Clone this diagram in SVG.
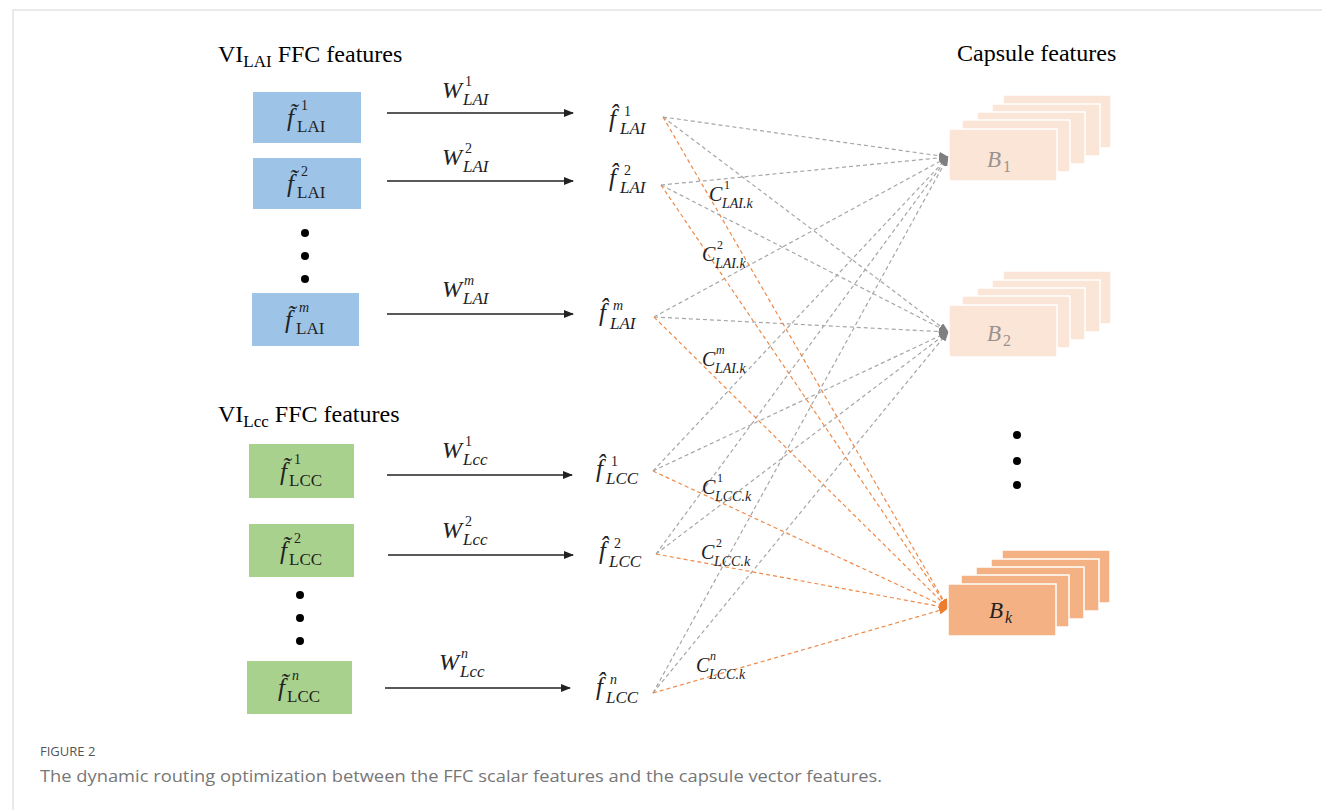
<svg xmlns="http://www.w3.org/2000/svg" width="1322" height="810" viewBox="0 0 1322 810">
<style>
.frame{stroke:#e3e3e3;stroke-width:1.5;fill:none}
.title{font-family:"Liberation Serif",serif;font-size:24px;fill:#000}
.m{font-family:"Liberation Serif","DejaVu Serif",serif;font-style:italic;fill:#222}
.up{font-style:normal}
.f{font-size:25px}
.sp{font-size:14px}
.sb{font-size:17px}
.blue{fill:#9dc3e6}
.green{fill:#a9d18e}
.cap{fill:#fbe5d6;stroke:#fff;stroke-width:1.5}
.capk{fill:#f4b183;stroke:#fff;stroke-width:1.5}
.arrow{stroke:#222;stroke-width:1.3;fill:none;marker-end:url(#ah)}
.g{stroke:#a6a6a6;stroke-width:1.2;stroke-dasharray:4 3;fill:none;marker-end:url(#gh)}
.o{stroke:#ee8a48;stroke-width:1.2;stroke-dasharray:4 3;fill:none;marker-end:url(#oh)}
.dot{fill:#000}
.fig{font-family:"Open Sans",sans-serif;font-size:13px;fill:#555}
.capt{font-family:"Open Sans",sans-serif;font-size:16px;fill:#777}
.blab{fill:#9a9290}
</style>
<defs>
<marker id="ah" markerWidth="10" markerHeight="8" refX="9" refY="4" orient="auto" markerUnits="userSpaceOnUse"><path d="M0,0 L10,4 L0,8 z" fill="#222"/></marker>
<marker id="gh" markerWidth="10" markerHeight="8" refX="9" refY="4" orient="auto" markerUnits="userSpaceOnUse"><path d="M0,0 L10,4 L0,8 z" fill="#7f7f7f"/></marker>
<marker id="oh" markerWidth="10" markerHeight="8" refX="9" refY="4" orient="auto" markerUnits="userSpaceOnUse"><path d="M0,0 L10,4 L0,8 z" fill="#ed7d31"/></marker>
<g id="stack">
<rect x="54" y="-34" width="108" height="53"/>
<rect x="43" y="-25" width="108" height="52"/>
<rect x="28" y="-17" width="108" height="52"/>
<rect x="13" y="-9" width="108" height="52"/>
<rect x="0" y="0" width="108" height="52"/>
</g>
</defs>
<rect width="1322" height="810" fill="#fff"/>
<path class="frame" d="M13,810 V10 H1322"/>

<text class="title" x="218" y="62">VI<tspan font-size="17" dy="5">LAI</tspan><tspan dy="-5"> FFC features</tspan></text>
<text class="title" x="218" y="422">VI<tspan font-size="17" dy="5">Lcc</tspan><tspan dy="-5"> FFC features</tspan></text>
<text class="title" x="957" y="61">Capsule features</text>

<g id="connectors">
<line class="arrow" x1="387" y1="113" x2="573" y2="113"/>
<line class="arrow" x1="387" y1="181" x2="573" y2="181"/>
<line class="arrow" x1="387" y1="314" x2="573" y2="314"/>
<line class="arrow" x1="387" y1="475" x2="572" y2="475"/>
<line class="arrow" x1="388" y1="555" x2="573" y2="555"/>
<line class="arrow" x1="385" y1="688" x2="570" y2="688"/>
<line class="g" x1="663" y1="117" x2="948" y2="157"/>
<line class="g" x1="661" y1="185" x2="948" y2="157"/>
<line class="g" x1="654" y1="317" x2="948" y2="157"/>
<line class="g" x1="653" y1="471" x2="948" y2="157"/>
<line class="g" x1="656" y1="554" x2="948" y2="157"/>
<line class="g" x1="653" y1="693" x2="948" y2="157"/>
<line class="g" x1="663" y1="117" x2="948" y2="332"/>
<line class="g" x1="661" y1="185" x2="948" y2="332"/>
<line class="g" x1="654" y1="317" x2="948" y2="332"/>
<line class="g" x1="653" y1="471" x2="948" y2="332"/>
<line class="g" x1="656" y1="554" x2="948" y2="332"/>
<line class="g" x1="653" y1="693" x2="948" y2="332"/>
<line class="o" x1="663" y1="117" x2="948" y2="608"/>
<line class="o" x1="661" y1="185" x2="948" y2="608"/>
<line class="o" x1="654" y1="317" x2="948" y2="608"/>
<line class="o" x1="653" y1="471" x2="948" y2="608"/>
<line class="o" x1="656" y1="554" x2="948" y2="608"/>
<line class="o" x1="653" y1="693" x2="948" y2="608"/>
</g>

<g id="fLAI1"><rect class="blue" x="253" y="92" width="108" height="51"/>
<text class="m f" x="287" y="126">f̃</text><text class="m up sp" x="301" y="110">1</text><text class="m up sb" x="297" y="132">LAI</text></g>
<g id="fLAI2"><rect class="blue" x="253" y="158" width="108" height="51"/>
<text class="m f" x="287" y="192">f̃</text><text class="m up sp" x="301" y="176">2</text><text class="m up sb" x="297" y="198">LAI</text></g>
<g id="dotsLAI"><circle class="dot" cx="305" cy="233" r="4"/><circle class="dot" cx="305" cy="256" r="4"/><circle class="dot" cx="305" cy="279" r="4"/></g>
<g id="fLAIm"><rect class="blue" x="252" y="293" width="107" height="53"/>
<text class="m f" x="285" y="328">f̃</text><text class="m sp" x="299" y="312">m</text><text class="m up sb" x="296" y="334">LAI</text></g>

<g id="fLCC1"><rect class="green" x="249" y="444" width="105" height="54"/>
<text class="m f" x="280" y="480">f̃</text><text class="m up sp" x="294" y="464">1</text><text class="m up sb" x="289" y="486">LCC</text></g>
<g id="fLCC2"><rect class="green" x="249" y="524" width="105" height="53"/>
<text class="m f" x="280" y="559">f̃</text><text class="m up sp" x="294" y="543">2</text><text class="m up sb" x="289" y="565">LCC</text></g>
<g id="dotsLCC"><circle class="dot" cx="300" cy="595" r="4"/><circle class="dot" cx="300" cy="618" r="4"/><circle class="dot" cx="300" cy="641" r="4"/></g>
<g id="fLCCn"><rect class="green" x="247" y="661" width="105" height="53"/>
<text class="m f" x="278" y="696">f̃</text><text class="m sp" x="292" y="680">n</text><text class="m up sb" x="287" y="702">LCC</text></g>

<g id="wlabels">
<text class="m" x="442" y="98" font-size="24">W</text><text class="m up sp" x="465" y="86">1</text><text class="m sb" x="463" y="105">LAI</text>
<text class="m" x="442" y="165" font-size="24">W</text><text class="m up sp" x="465" y="153">2</text><text class="m sb" x="463" y="172">LAI</text>
<text class="m" x="442" y="297" font-size="24">W</text><text class="m sp" x="464" y="285">m</text><text class="m sb" x="463" y="304">LAI</text>
<text class="m" x="442" y="458" font-size="24">W</text><text class="m up sp" x="465" y="446">1</text><text class="m sb" x="463" y="465">Lcc</text>
<text class="m" x="442" y="538" font-size="24">W</text><text class="m up sp" x="465" y="526">2</text><text class="m sb" x="463" y="545">Lcc</text>
<text class="m" x="439" y="670" font-size="24">W</text><text class="m sp" x="461" y="658">n</text><text class="m sb" x="460" y="677">Lcc</text>
</g>

<g id="fhLAI1"><text class="m f" x="609" y="127">f̂</text><text class="m up sp" x="624" y="116">1</text><text class="m sb" x="620" y="134">LAI</text></g>
<g id="fhLAI2"><text class="m f" x="609" y="186">f̂</text><text class="m up sp" x="624" y="175">2</text><text class="m sb" x="620" y="193">LAI</text></g>
<g id="fhLAIm"><text class="m f" x="599" y="321">f̂</text><text class="m sp" x="613" y="310">m</text><text class="m sb" x="610" y="329">LAI</text></g>
<g id="fhLCC1"><text class="m f" x="596" y="477">f̂</text><text class="m up sp" x="611" y="466">1</text><text class="m sb" x="606" y="484">LCC</text></g>
<g id="fhLCC2"><text class="m f" x="599" y="559">f̂</text><text class="m up sp" x="614" y="548">2</text><text class="m sb" x="609" y="567">LCC</text></g>
<g id="fhLCCn"><text class="m f" x="596" y="695">f̂</text><text class="m sp" x="610" y="684">n</text><text class="m sb" x="606" y="703">LCC</text></g>

<g id="clabels">
<text class="m" x="709" y="201" font-size="20">C</text><text class="m up" x="724" y="189" font-size="12">1</text><text class="m" x="722" y="208" font-size="14">LAI.k</text>
<text class="m" x="702" y="261" font-size="20">C</text><text class="m up" x="717" y="249" font-size="12">2</text><text class="m" x="715" y="268" font-size="14">LAI.k</text>
<text class="m" x="702" y="366" font-size="20">C</text><text class="m" x="716" y="354" font-size="12">m</text><text class="m" x="715" y="373" font-size="14">LAI.k</text>
<text class="m" x="702" y="494" font-size="20">C</text><text class="m up" x="717" y="482" font-size="12">1</text><text class="m" x="715" y="501" font-size="14">LCC.k</text>
<text class="m" x="701" y="559" font-size="20">C</text><text class="m up" x="716" y="547" font-size="12">2</text><text class="m" x="714" y="566" font-size="14">LCC.k</text>
<text class="m" x="696" y="672" font-size="20">C</text><text class="m" x="710" y="660" font-size="12">n</text><text class="m" x="709" y="679" font-size="14">LCC.k</text>
</g>

<g id="B1"><use href="#stack" class="cap" transform="translate(949,129)"/>
<text class="m blab" x="987" y="167" font-size="23">B</text><text class="m up blab" x="1003" y="172" font-size="16">1</text></g>
<g id="B2"><use href="#stack" class="cap" transform="translate(949,305)"/>
<text class="m blab" x="987" y="341" font-size="23">B</text><text class="m up blab" x="1003" y="346" font-size="16">2</text></g>
<g id="dotsB"><circle class="dot" cx="1017" cy="435" r="4"/><circle class="dot" cx="1017" cy="461" r="4"/><circle class="dot" cx="1017" cy="485" r="4"/></g>
<g id="Bk"><use href="#stack" class="capk" transform="translate(948,584)"/>
<text class="m" x="989" y="618" font-size="23">B</text><text class="m" x="1005" y="623" font-size="16">k</text></g>

<text class="fig" x="40" y="756">FIGURE 2</text>
<text class="capt" x="40" y="782" textLength="842" lengthAdjust="spacingAndGlyphs">The dynamic routing optimization between the FFC scalar features and the capsule vector features.</text>
</svg>
